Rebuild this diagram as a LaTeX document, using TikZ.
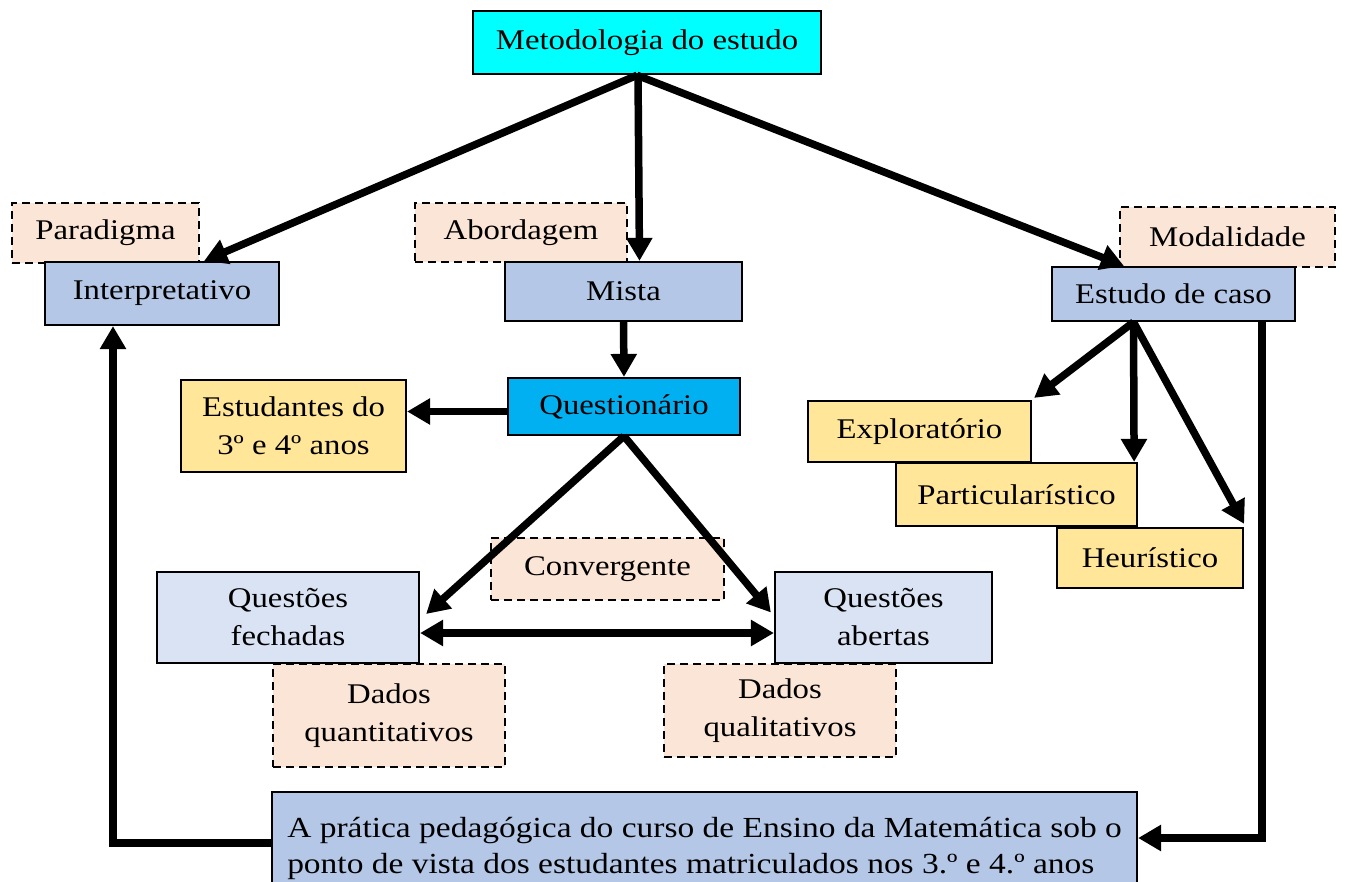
\documentclass[tikz,border=0pt]{standalone}
\usepackage{fontspec}
\setmainfont{Liberation Serif}[FakeStretch=1.15]
\usetikzlibrary{arrows.meta,calc}

\definecolor{cyanbox}{HTML}{00FFFF}
\definecolor{bluemid}{HTML}{B4C7E7}
\definecolor{bluelight}{HTML}{DAE3F3}
\definecolor{peach}{HTML}{FBE5D6}
\definecolor{goldlight}{HTML}{FFE699}
\definecolor{questblue}{HTML}{00B0F0}

\tikzset{
  box/.style={draw=black, line width=2.2pt, inner sep=0pt, align=center,
              font=\fontsize{28.5}{38}\selectfont},
  dashbox/.style={box, line width=2.2pt, dash pattern=on 8pt off 5pt, fill=peach},
  arr/.style={line width=7.5pt, -{Triangle[length=23pt,width=25pt]}},
  dblarr/.style={line width=7.5pt, {Triangle[length=23pt,width=25pt]}-{Triangle[length=23pt,width=25pt]}}
}

\begin{document}
\begin{tikzpicture}[x=1pt,y=-1pt]
\path[use as bounding box] (0,0) rectangle (1346,882);
\clip (0,0) rectangle (1346,882);

% dashed note boxes
\node[dashbox, minimum width=187pt, minimum height=60pt] (parad) at (105.5,233) {Paradigma};
\node[dashbox, minimum width=212pt, minimum height=59pt] (abord) at (521,232.5) {Abordagem};
\node[dashbox, minimum width=215pt, minimum height=60pt] (modal) at (1227.5,237) {Modalidade};
\node[dashbox, minimum width=233pt, minimum height=62pt] (conv) at (607.5,569) {Convergente};
\node[dashbox, minimum width=232pt, minimum height=103pt] (dquant) at (389,715.5) {Dados\\quantitativos};
\node[dashbox, minimum width=232pt, minimum height=93pt] (dqual) at (780,710.5) {Dados\\qualitativos};

% main boxes
\node[box, line width=2.6pt, fill=cyanbox, minimum width=348pt, minimum height=63pt] (top) at (647,42.5) {Metodologia do estudo};
\node[box, fill=bluemid, minimum width=234pt, minimum height=63pt] (interp) at (162,293.5) {Interpretativo};
\node[box, fill=bluemid, minimum width=237pt, minimum height=59pt] (mista) at (623.5,291.5) {Mista};
\node[box, fill=bluemid, minimum width=243pt, minimum height=54pt] (estudo) at (1173.5,294) {Estudo de caso};
\node[box, fill=questblue, minimum width=232pt, minimum height=57pt] (quest) at (624,406.5) {Questionário};
\node[box, fill=goldlight, minimum width=225pt, minimum height=92pt] (estud) at (293.5,426) {Estudantes do\\3º e 4º anos};
\node[box, fill=goldlight, minimum width=223pt, minimum height=61pt] (explor) at (919.5,431.5) {Exploratório};
\node[box, fill=goldlight, minimum width=241pt, minimum height=63pt] (partic) at (1016.5,494.5) {Particularístico};
\node[box, fill=goldlight, minimum width=186pt, minimum height=60pt] (heur) at (1150,558) {Heurístico};
\node[box, fill=bluelight, minimum width=262pt, minimum height=91pt] (qfech) at (288,617.5) {Questões\\fechadas};
\node[box, fill=bluelight, minimum width=217pt, minimum height=91pt] (qabert) at (883.5,617.5) {Questões\\abertas};
\node[box, fill=bluemid, minimum width=865pt, minimum height=112pt, align=left,
      font=\fontsize{29.1}{36}\selectfont] (bottom) at (704.5,848)
  {A prática pedagógica do curso de Ensino da Matemática sob o\\ponto de vista dos estudantes matriculados nos 3.º e 4.º anos};

% connectors from the top box
\draw[arr] ([xshift=-10pt]top.south) -- ([xshift=-76pt]interp.north east);
\draw[arr] ([xshift=-9pt]top.south) -- ([xshift=16pt]mista.north);
\draw[arr] ([xshift=-10pt]top.south) -- ([xshift=73pt]estudo.north west);

% approach chain
\draw[arr] (mista.south) -- (quest.north);
\draw[arr] ([yshift=-5pt]quest.west) -- ([yshift=-5pt]quest.west -| estud.east);
\draw[arr] (quest.south) -- ([xshift=6pt,yshift=3.5pt]qfech.east);
\draw[arr] (quest.south) -- ([xshift=-3pt,yshift=5pt]qabert.west);
\draw[dblarr] ([yshift=-15.5pt]qfech.east) -- ([yshift=-15.5pt]qabert.west);

% case study branches
\draw[arr] ([xshift=-40pt]estudo.south) -- ([xshift=2pt,yshift=2pt]explor.north east);
\draw[arr] ([xshift=-40pt]estudo.south) -- ([xshift=-4pt]partic.north east);
\draw[arr] ([xshift=-40pt]estudo.south) -- ([yshift=3pt]heur.north east);

% loop connectors around the bottom box
\draw[arr] ([xshift=-34pt]estudo.south east) |- ([yshift=10pt]bottom.east);
\draw[arr] ([yshift=5pt]bottom.west) -| ([xshift=-49pt]interp.south);
\end{tikzpicture}
\end{document}
